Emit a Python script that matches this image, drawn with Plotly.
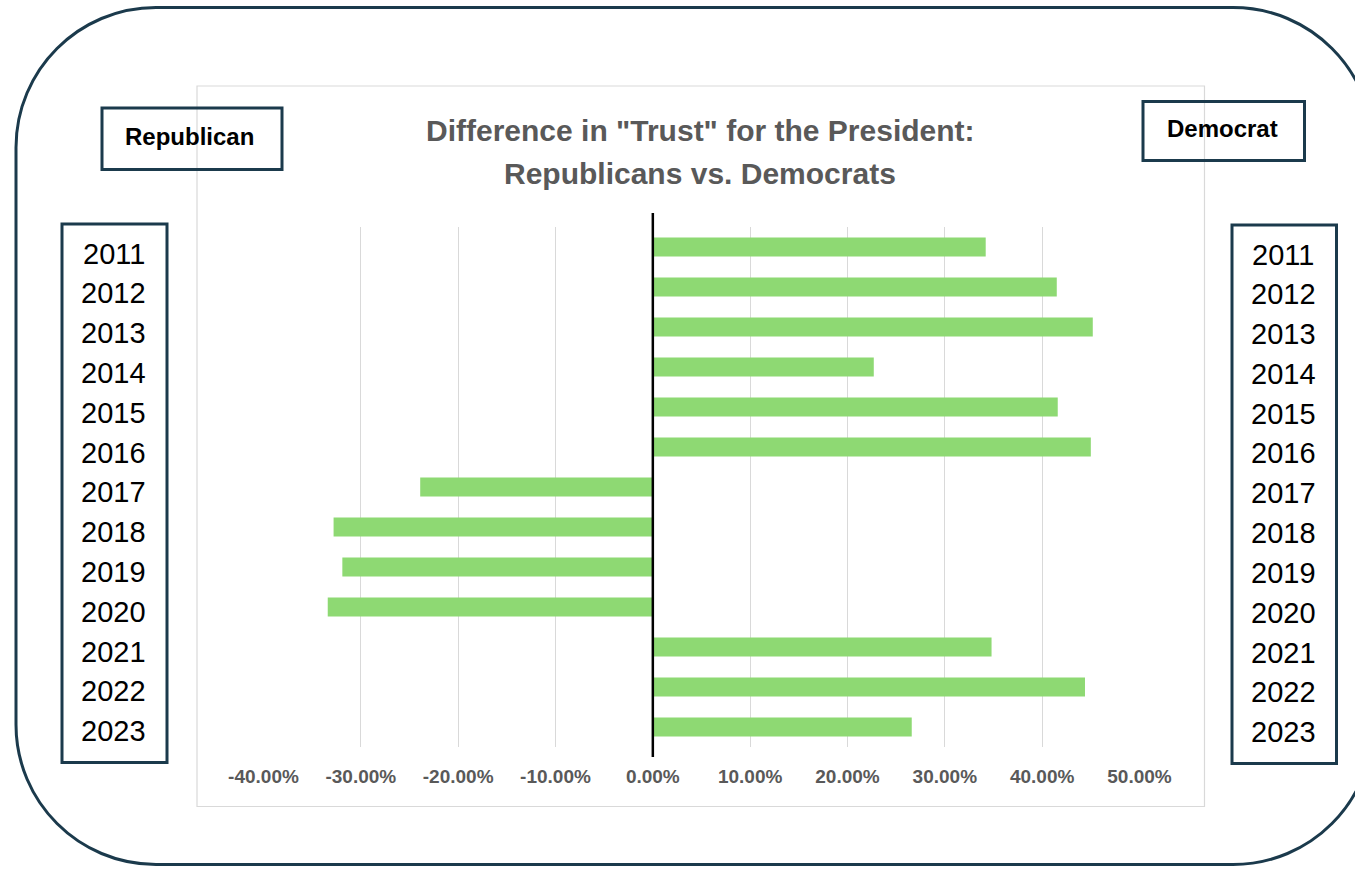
import plotly.graph_objects as go

# ---- data -------------------------------------------------------------
years = ["2011", "2012", "2013", "2014", "2015", "2016", "2017",
         "2018", "2019", "2020", "2021", "2022", "2023"]
trust_gap = [0.342, 0.415, 0.452, 0.227, 0.416, 0.450, -0.239,
             -0.328, -0.319, -0.334, 0.348, 0.444, 0.266]
tick_values = [-0.4, -0.3, -0.2, -0.1, 0.0, 0.1, 0.2, 0.3, 0.4, 0.5]
tick_labels = ["-40.00%", "-30.00%", "-20.00%", "-10.00%", "0.00%",
               "10.00%", "20.00%", "30.00%", "40.00%", "50.00%"]
title_lines = ['Difference in "Trust" for the President:',
               "Republicans vs. Democrats"]
side_labels = ["Republican", "Democrat"]

# ---- page geometry (pixels) -------------------------------------------
W, H = 1355, 869
BAR_GREEN = "#8ED973"
FRAME = "#1b3a4c"
GRID = "#d9d9d9"
TEXT_GRAY = "#595959"
FONT = "Liberation Sans, Arial, sans-serif"


def px(x):
    return x / W


def py(y):
    return 1 - y / H


def rounded_rect_path(x0, y0, x1, y1, r):
    k = 0.5523 * r
    pts = [
        ("M", [(x0 + r, y0)]),
        ("L", [(x1 - r, y0)]),
        ("C", [(x1 - r + k, y0), (x1, y0 + r - k), (x1, y0 + r)]),
        ("L", [(x1, y1 - r)]),
        ("C", [(x1, y1 - r + k), (x1 - r + k, y1), (x1 - r, y1)]),
        ("L", [(x0 + r, y1)]),
        ("C", [(x0 + r - k, y1), (x0, y1 - r + k), (x0, y1 - r)]),
        ("L", [(x0, y0 + r)]),
        ("C", [(x0, y0 + r - k), (x0 + r - k, y0), (x0 + r, y0)]),
    ]
    out = []
    for cmd, coords in pts:
        out.append(cmd + " " + " ".join(f"{px(a):.5f},{py(b):.5f}" for a, b in coords))
    return " ".join(out) + " Z"


fig = go.Figure()
fig.add_trace(go.Bar(
    x=trust_gap,
    y=years,
    orientation="h",
    width=0.48,
    marker=dict(color=BAR_GREEN, line=dict(width=0)),
    hovertemplate="%{y}: %{x:.2%}<extra></extra>",
))

plot_left, plot_right = 263.5, 1139.5
plot_top, plot_bottom = 227, 747

shapes = []
# outer rounded frame
shapes.append(dict(type="path", xref="paper", yref="paper",
                   path=rounded_rect_path(16, 7.5, 1373, 864.5, 140),
                   line=dict(color=FRAME, width=3), layer="below"))
# chart area border
shapes.append(dict(type="rect", xref="paper", yref="paper",
                   x0=px(197), x1=px(1204.5), y0=py(86), y1=py(806.5),
                   line=dict(color=GRID, width=1.2), layer="below"))
# boxes for the side labels
for (x0, y0, x1, y1) in [(102, 108, 282, 169.5), (1143, 101.5, 1304.5, 160.5),
                         (62, 224, 167, 762.5), (1232, 225, 1336.5, 763.5)]:
    shapes.append(dict(type="rect", xref="paper", yref="paper",
                       x0=px(x0), x1=px(x1), y0=py(y0), y1=py(y1),
                       line=dict(color=FRAME, width=3),
                       fillcolor="rgba(255,255,255,0)"))
# vertical zero axis
shapes.append(dict(type="line", xref="x", yref="paper",
                   x0=0, x1=0, y0=py(213), y1=py(757),
                   line=dict(color="black", width=2.5), layer="above"))

annotations = []
# chart title
for i, line in enumerate(title_lines):
    annotations.append(dict(
        xref="paper", yref="paper", x=px(700), y=py(130 + 44 * i),
        text=f"<b>{line}</b>", showarrow=False,
        xanchor="center", yanchor="middle",
        font=dict(family=FONT, size=30, color=TEXT_GRAY),
    ))
# party labels
for label, cx, cy in zip(side_labels, [189, 1222], [136, 129]):
    annotations.append(dict(
        xref="paper", yref="paper", x=px(cx), y=py(cy),
        text=f"<b>{label}</b>", showarrow=False,
        xanchor="center", yanchor="middle",
        font=dict(family=FONT, size=24, color="black"),
    ))
# year columns on both sides
for i, yr in enumerate(years):
    for cx, base in [(113.5, 264.0), (1283, 265.0)]:
        annotations.append(dict(
            xref="paper", yref="paper", x=px(cx), y=py(base + 39.8 * i - 10.5),
            text=yr, showarrow=False,
            xanchor="center", yanchor="middle",
            font=dict(family=FONT, size=29, color="black"),
        ))

fig.update_layout(
    template="none",
    width=W, height=H, autosize=False,
    margin=dict(l=0, r=0, t=0, b=0, pad=0, autoexpand=False),
    paper_bgcolor="white", plot_bgcolor="white",
    showlegend=False,
    bargap=0.52,
    shapes=shapes,
    annotations=annotations,
    xaxis=dict(
        domain=[px(plot_left), px(plot_right)],
        range=[-0.4, 0.5],
        tickvals=tick_values, ticktext=tick_labels,
        showgrid=True, gridcolor=GRID, gridwidth=1.2,
        zeroline=False, showline=False, ticks="",
        ticklabelstandoff=16, automargin=False,
        tickfont=dict(family=FONT, size=19, color=TEXT_GRAY, weight="bold"),
        fixedrange=True,
    ),
    yaxis=dict(
        domain=[py(plot_bottom), py(plot_top)],
        type="category", categoryorder="array", categoryarray=years,
        autorange="reversed", automargin=False,
        showgrid=False, zeroline=False, showline=False,
        showticklabels=False, ticks="",
        fixedrange=True,
    ),
)

fig.write_html("out.html")
